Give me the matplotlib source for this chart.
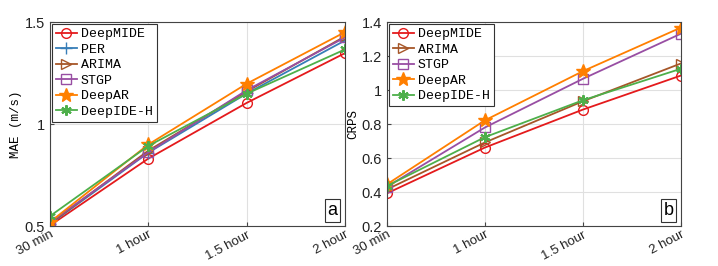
import numpy as np
import matplotlib.pyplot as plt

# 横軸ラベル
horizons = ['30 min', '1 hour', '1.5 hour', '2 hour']

# (a) MAE
mae_deepmide = [0.503, 0.831, 1.104, 1.348]
mae_per = [0.510, 0.860, 1.150, 1.410]
mae_arima = [0.512, 0.870, 1.160, 1.430]
mae_stgp = [0.518, 0.862, 1.166, 1.425]
mae_deepar = [0.520, 0.900, 1.198, 1.451]
mae_deepideh = [0.549, 0.893, 1.149, 1.366]

# (b) CRPS
crps_deepmide = [0.393, 0.662, 0.885, 1.085]
crps_arima = [0.416, 0.692, 0.934, 1.156]
crps_stgp = [0.432, 0.780, 1.066, 1.331]
crps_deepar = [0.446, 0.822, 1.111, 1.367]
crps_deepideh = [0.436, 0.723, 0.940, 1.125]

styles = {
    'DeepMIDE': dict(color='#e41a1c', marker='o', mfc='none', ms=7),
    'PER': dict(color='#377eb8', marker='+', ms=8),
    'ARIMA': dict(color='#a65628', marker='>', mfc='none', ms=7),
    'STGP': dict(color='#984ea3', marker='s', mfc='none', ms=6.5),
    'DeepAR': dict(color='#ff7f00', marker='*', ms=10),
    'DeepIDE-H': dict(color='#4daf4a', marker=(6, 2, 0), ms=7.5, mew=1.5),
}

mono = 'Liberation Mono'
plt.rcParams['font.family'] = ['Liberation Sans', 'DejaVu Sans']

fig = plt.figure(figsize=(7.18, 2.66), dpi=100)
ax1 = fig.add_axes([0.0696, 0.150, 0.411, 0.767])
ax2 = fig.add_axes([0.539, 0.150, 0.409, 0.767])

x = np.arange(len(horizons))

def draw(ax, series, ylim, yticks, yticklabels, ylabel, tag):
    for name, vals in series:
        ax.plot(x, vals, lw=1.3, label=name, **styles[name])
    ax.set_xlim(0, 3)
    ax.set_ylim(*ylim)
    ax.set_xticks(x)
    ax.set_xticklabels(horizons, rotation=28, ha='right', rotation_mode='anchor', fontsize=9.5)
    ax.set_yticks(yticks)
    ax.set_yticklabels(yticklabels, fontsize=10.5)
    ax.set_ylabel(ylabel, family=mono, fontsize=9, labelpad=2)
    ax.grid(True, color='#e0e0e0', lw=0.8)
    ax.set_axisbelow(True)
    for s in ax.spines.values():
        s.set_color('#444444')
        s.set_linewidth(0.8)
    ax.tick_params(direction='in', length=3, color='#444444', labelcolor='#222222')
    ax.tick_params(axis='x', pad=2)
    leg = ax.legend(loc='upper left', prop={'family': mono, 'size': 9.5}, fancybox=False,
                    edgecolor='#333333', framealpha=1, borderpad=0.3, labelspacing=0.25,
                    handlelength=1.6, handletextpad=0.3, borderaxespad=0.15)
    leg.get_frame().set_linewidth(0.8)
    ax.text(0.975, 0.035, tag, transform=ax.transAxes, ha='right', va='bottom', fontsize=13,
            bbox=dict(boxstyle='square,pad=0.15', fc='white', ec='#333333', lw=0.8))

draw(ax1, [('DeepMIDE', mae_deepmide), ('PER', mae_per), ('ARIMA', mae_arima),
           ('STGP', mae_stgp), ('DeepAR', mae_deepar), ('DeepIDE-H', mae_deepideh)],
     (0.5, 1.5), [0.5, 1.0, 1.5], ['0.5', '1', '1.5'], 'MAE (m/s)', 'a')

draw(ax2, [('DeepMIDE', crps_deepmide), ('ARIMA', crps_arima), ('STGP', crps_stgp),
           ('DeepAR', crps_deepar), ('DeepIDE-H', crps_deepideh)],
     (0.2, 1.4), [0.2, 0.4, 0.6, 0.8, 1.0, 1.2, 1.4],
     ['0.2', '0.4', '0.6', '0.8', '1', '1.2', '1.4'], 'CRPS', 'b')

fig.savefig('out.png', dpi=100)
